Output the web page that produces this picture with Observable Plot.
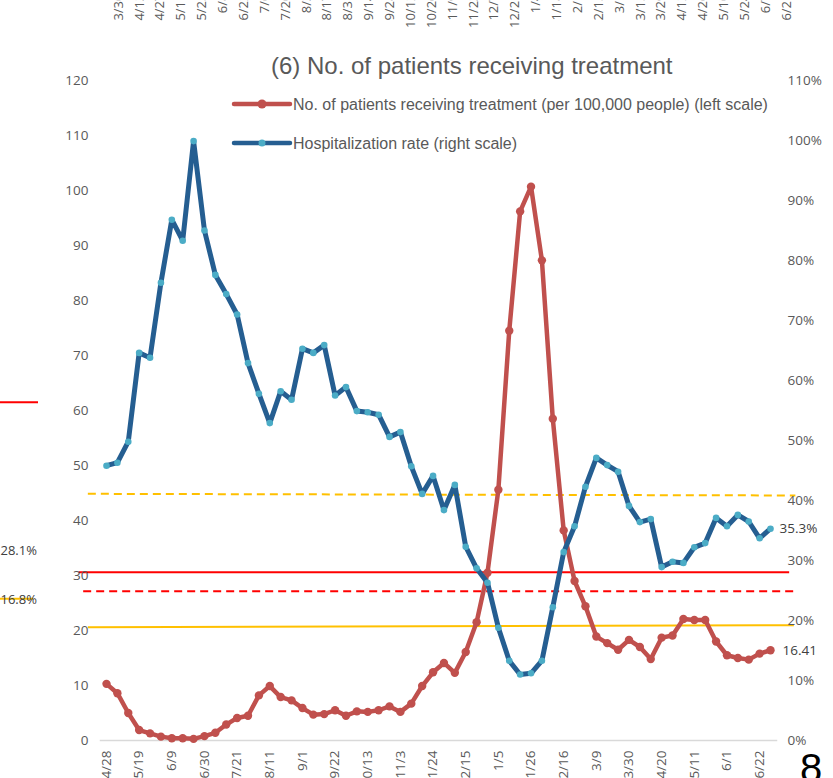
<!DOCTYPE html>
<html>
<head>
<meta charset="utf-8">
<script src="https://cdn.jsdelivr.net/npm/d3@7"></script>
<script src="https://cdn.jsdelivr.net/npm/@observablehq/plot@0.6"></script>
<style>
  body { margin: 0; background: #fff; }
  #wrap { position: relative; width: 833px; height: 778px; overflow: hidden; background: #fff; }
  #wrap > * { position: absolute; }
  .title { left: 271px; top: 54px; font: 24px/24px "Liberation Sans", Arial, sans-serif; color: #595959; white-space: nowrap; }
  .legtxt { left: 293px; font: 16px/16px "Liberation Sans", Arial, sans-serif; color: #595959; white-space: nowrap; }
  .pageno { left: 800px; top: 748px; font: 40px/40px "Liberation Sans", Arial, sans-serif; color: #000; }
</style>
</head>
<body>
<div id="wrap"></div>
<script>
// ---- data (weekly, Wednesdays) ----
const weeks = [
  "2021-04-28","2021-05-05","2021-05-12","2021-05-19","2021-05-26","2021-06-02","2021-06-09","2021-06-16",
  "2021-06-23","2021-06-30","2021-07-07","2021-07-14","2021-07-21","2021-07-28","2021-08-04","2021-08-11",
  "2021-08-18","2021-08-25","2021-09-01","2021-09-08","2021-09-15","2021-09-22","2021-09-29","2021-10-06",
  "2021-10-13","2021-10-20","2021-10-27","2021-11-03","2021-11-10","2021-11-17","2021-11-24","2021-12-01",
  "2021-12-08","2021-12-15","2021-12-22","2021-12-29","2022-01-05","2022-01-12","2022-01-19","2022-01-26",
  "2022-02-02","2022-02-09","2022-02-16","2022-02-23","2022-03-02","2022-03-09","2022-03-16","2022-03-23",
  "2022-03-30","2022-04-06","2022-04-13","2022-04-20","2022-04-27","2022-05-04","2022-05-11","2022-05-18",
  "2022-05-25","2022-06-01","2022-06-08","2022-06-15","2022-06-22","2022-06-29"
];
// No. of patients receiving treatment (per 100,000 people), left scale
const patients = [
  10.3, 8.6, 5.0, 1.9, 1.3, 0.7, 0.4, 0.4, 0.3, 0.8, 1.4, 2.9, 4.1, 4.5, 8.2, 9.9,
  7.9, 7.3, 5.9, 4.7, 4.8, 5.5, 4.5, 5.3, 5.2, 5.5, 6.2, 5.2, 6.7, 9.9, 12.4, 14.1,
  12.3, 16.1, 21.5, 30.5, 45.6, 74.5, 96.2, 100.7, 87.3, 58.5, 38.2, 29.0, 24.4, 18.9,
  17.7, 16.5, 18.3, 17.0, 14.8, 18.7, 19.1, 22.1, 21.9, 21.9, 18.0, 15.5, 15.0, 14.7,
  15.8, 16.41
];
// Hospitalization rate (%), right scale
const hospRate = [
  45.8, 46.3, 49.8, 64.6, 63.8, 76.3, 86.8, 83.3, 99.9, 85.0, 77.6, 74.4, 71.0, 62.9, 57.8, 52.9,
  58.2, 56.8, 65.3, 64.6, 65.9, 57.5, 58.9, 54.9, 54.7, 54.3, 50.6, 51.4, 45.7, 41.1, 44.1, 38.4,
  42.6, 32.3, 28.7, 26.3, 18.8, 13.3, 11.0, 11.2, 13.3, 22.2, 31.4, 35.7, 42.3, 47.1,
  45.9, 44.8, 39.1, 36.4, 36.9, 28.9, 29.8, 29.6, 32.2, 32.9, 37.1, 35.7, 37.6, 36.5,
  33.7, 35.3
];
const leftTicks = [0, 10, 20, 30, 40, 50, 60, 70, 80, 90, 100, 110, 120];
const rightTicksPct = [0, 10, 20, 30, 40, 50, 60, 70, 80, 90, 100, 110];
const xTickLabels = ["4/28","5/19","6/9","6/30","7/21","8/11","9/1","9/22","10/13","11/3","11/24",
  "12/15","1/5","1/26","2/16","3/9","3/30","4/20","5/11","6/1","6/22"];
const endLabels = { patients: "16.41", rate: "35.3%" };

// threshold lines (left-scale units)
const refLines = [
  { x1: "2021-04-10", x2: "2022-07-11", y1: 30.6, y2: 30.6, color: "#FF0000", dash: null },
  { x1: "2021-04-13", x2: "2022-07-16", y1: 27.15, y2: 27.15, color: "#FF0000", dash: "8,5" },
  { x1: "2021-04-16", x2: "2022-07-15", y1: 44.85, y2: 44.55, color: "#FFC000", dash: "8,5" },
  { x1: "2021-04-16", x2: "2022-07-14", y1: 20.6, y2: 20.95, color: "#FFC000", dash: null }
];

// neighbouring chart fragments (cropped slide)
const topStripDates = [
  "2021-03-30","2021-04-13","2021-04-27","2021-05-11","2021-05-25","2021-06-08","2021-06-22","2021-07-06",
  "2021-07-20","2021-08-03","2021-08-17","2021-08-31","2021-09-14","2021-09-28","2021-10-12","2021-10-26",
  "2021-11-09","2021-11-23","2021-12-07","2021-12-21","2022-01-04","2022-01-18","2022-02-01","2022-02-15",
  "2022-03-01","2022-03-15","2022-03-29","2022-04-12","2022-04-26","2022-05-10","2022-05-24","2022-06-07",
  "2022-06-21"
];
const leftFragLabels = [{ label: "28.1%", value: 28.1 }, { label: "16.8%", value: 16.6 }];
const leftFragLines = [{ value: 63.1, len: 38, color: "#FF0000" }, { value: 16.9, len: 33, color: "#FFC000" }];

// ---- build ----
const PCT_TO_LEFT = 120 / 110;
const rows = weeks.map((w, i) => ({ date: new Date(w), patients: patients[i], rate: hospRate[i] }));
const last = rows[rows.length - 1];
const tickDates = xTickLabels.map(l => rows.find(r => d3.utcFormat("%-m/%-d")(r.date) === l).date);
const C_RED = "#C0504D", C_BLUE = "#255E91", C_BLUE_DOT = "#4BACC6";

const wrap = document.getElementById("wrap");

const main = Plot.plot({
  width: 833, height: 778,
  marginLeft: 100, marginRight: 57, marginTop: 80, marginBottom: 38,
  style: { fontFamily: "'Open Sans', sans-serif", fontSize: "13.5px", color: "#595959", background: "transparent" },
  x: { type: "utc", domain: [rows[0].date, last.date], range: [106, 770] },
  y: { domain: [0, 120] },
  marks: [
    Plot.frame({ anchor: "bottom", stroke: "#d9d9d9", strokeWidth: 1.5 }),
    ...refLines.map(r => Plot.link([r], {
      x1: d => new Date(d.x1), x2: d => new Date(d.x2), y1: "y1", y2: "y2",
      stroke: r.color, strokeWidth: 2, strokeDasharray: r.dash ?? undefined
    })),
    Plot.line(rows, { x: "date", y: "patients", stroke: C_RED, strokeWidth: 4.5 }),
    Plot.dot(rows, { x: "date", y: "patients", r: 4.2, fill: C_RED }),
    Plot.line(rows, { x: "date", y: d => d.rate * PCT_TO_LEFT, stroke: C_BLUE, strokeWidth: 5 }),
    Plot.dot(rows, { x: "date", y: d => d.rate * PCT_TO_LEFT, r: 3.3, fill: C_BLUE_DOT }),
    Plot.axisY({ anchor: "left", ticks: leftTicks, tickSize: 0, tickPadding: 12, tickFormat: d => d }),
    Plot.axisY({ anchor: "right", ticks: rightTicksPct.map(p => p * PCT_TO_LEFT), tickSize: 0, tickPadding: 11,
      tickFormat: v => Math.round(v / PCT_TO_LEFT) + "%" }),
    Plot.axisX({ ticks: tickDates, tickSize: 0, tickPadding: 10, tickRotate: -90, tickFormat: d3.utcFormat("%-m/%-d") }),
    Plot.text([last], { x: "date", y: "patients", text: () => endLabels.patients, dx: 12, textAnchor: "start", fill: "#404040" }),
    Plot.text([last], { x: "date", y: d => d.rate * PCT_TO_LEFT, text: () => endLabels.rate, dx: 9, textAnchor: "start", fill: "#404040" })
  ]
});
main.style.left = "0px"; main.style.top = "0px";
wrap.appendChild(main);

// top strip: tick labels of the chart above (cut by the crop)
const topStrip = Plot.plot({
  width: 833, height: 30, margin: 0,
  style: { fontFamily: "'Open Sans', sans-serif", fontSize: "13px", color: "#595959", background: "transparent", overflow: "visible" },
  x: { type: "utc", domain: [new Date(topStripDates[0]), new Date(topStripDates[topStripDates.length - 1])], range: [113, 781], axis: null },
  marks: [
    Plot.text(topStripDates, { x: d => new Date(d), frameAnchor: "top", dy: -7, rotate: -90, textAnchor: "end",
      text: d => d3.utcFormat("%-m/%-d")(new Date(d)), fill: "#595959" })
  ]
});
topStrip.style.left = "0px"; topStrip.style.top = "0px";
wrap.appendChild(topStrip);

// left fragment of neighbouring chart
const leftFrag = Plot.plot({
  width: 45, height: 778, marginLeft: 0, marginRight: 0, marginTop: 245, marginBottom: 108,
  style: { fontFamily: "'Open Sans', sans-serif", fontSize: "13px", color: "#404040", background: "transparent", overflow: "visible" },
  x: { domain: [0, 45], range: [0, 45], axis: null },
  y: { domain: [0, 100], axis: null },
  marks: [
    ...leftFragLines.map(l => Plot.ruleY([l], { y: "value", x1: 0, x2: l.len, stroke: l.color, strokeWidth: 2 })),
    Plot.text(leftFragLabels, { y: "value", x: 0, text: "label", textAnchor: "start", fill: "#404040" })
  ]
});
leftFrag.style.left = "0px"; leftFrag.style.top = "0px";
wrap.appendChild(leftFrag);

// title & legend
function addDiv(cls, text, top) {
  const d = document.createElement("div");
  d.className = cls; d.textContent = text;
  if (top != null) d.style.top = top + "px";
  wrap.appendChild(d);
}
addDiv("title", "(6) No. of patients receiving treatment");
function swatch(top, stroke, dot, r) {
  const s = d3.create("svg").attr("width", 62).attr("height", 14)
    .style("left", "231px").style("top", top + "px").style("position", "absolute");
  s.append("line").attr("x1", 3).attr("x2", 59).attr("y1", 7).attr("y2", 7)
    .attr("stroke", stroke).attr("stroke-width", 4.5).attr("stroke-linecap", "round");
  s.append("circle").attr("cx", 31).attr("cy", 7).attr("r", r).attr("fill", dot);
  wrap.appendChild(s.node());
}
swatch(97, C_RED, C_RED, 4.5);
swatch(136, C_BLUE, C_BLUE_DOT, 3.5);
addDiv("legtxt", "No. of patients receiving treatment (per 100,000 people) (left scale)", 96.5);
addDiv("legtxt", "Hospitalization rate (right scale)", 135.5);
addDiv("pageno", "8");
</script>
</body>
</html>
